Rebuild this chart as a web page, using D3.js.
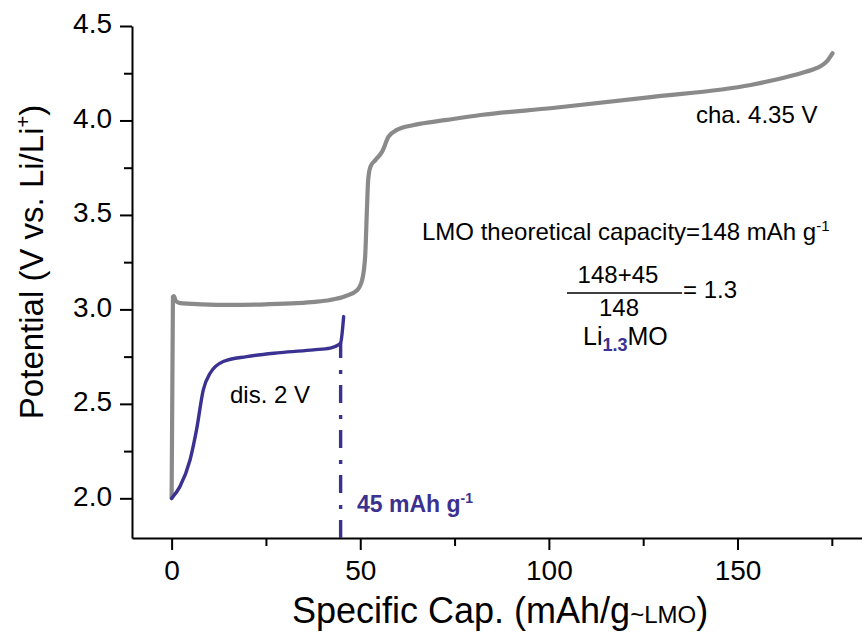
<!DOCTYPE html>
<html>
<head>
<meta charset="utf-8">
<script src="https://cdn.jsdelivr.net/npm/d3@7"></script>
<style>
  body { margin: 0; background: #fff; }
  text { font-family: "Liberation Sans", Arial, sans-serif; }
</style>
</head>
<body>
<div id="chart"></div>
<script>
// Data
var chargeCap = [0, 0.35, 0.6, 1.1, 2.2, 8, 15.5, 25, 33.2, 38, 42, 46, 49.1, 50.5, 51.3, 51.8, 52.1, 52.7, 54, 55.8, 57.5, 59.7, 64.2, 73, 81.9, 101, 127, 153.5, 162, 166.8, 170, 172.1, 173.8, 175.2];
var chargeV   = [2.0, 3.066, 3.07, 3.045, 3.033, 3.027, 3.024, 3.027, 3.033, 3.04, 3.05, 3.07, 3.10, 3.156, 3.28, 3.544, 3.685, 3.755, 3.79, 3.835, 3.914, 3.95, 3.976, 4.003, 4.029, 4.066, 4.124, 4.188, 4.225, 4.25, 4.27, 4.288, 4.315, 4.356];

var dischargeCap = [0, 2.2, 4.9, 6.6, 8.4, 10.2, 13.7, 19.9, 28.8, 37.6, 42, 44.2, 44.8, 45.6];
var dischargeV   = [2.0, 2.062, 2.204, 2.362, 2.574, 2.662, 2.724, 2.75, 2.771, 2.786, 2.795, 2.812, 2.823, 2.962];

var cutCap = 44.8;     // dash-dot marker at the discharge capacity
var cutV = 2.823;

var xTicks = [0, 50, 100, 150];
var xMinorTicks = [25, 75, 125, 175];
var yTicks = [2.0, 2.5, 3.0, 3.5, 4.0, 4.5];
var yMinorTicks = [2.25, 2.75, 3.25, 3.75, 4.25];

var gray = '#8a8a8a';
var purple = '#3b3191';

var width = 862, height = 632;
var svg = d3.select('#chart').append('svg')
  .attr('width', width)
  .attr('height', height);

var x = d3.scaleLinear().domain([-10.5, 183]).range([132, 862]);
var y = d3.scaleLinear().domain([1.79, 4.5]).range([538, 26]);

// Axes
var xAxis = svg.append('g')
  .attr('transform', 'translate(0,' + y(1.79) + ')')
  .call(d3.axisBottom(x).tickValues(xTicks).tickSize(12).tickPadding(10).tickSizeOuter(0));
svg.append('g')
  .attr('transform', 'translate(0,' + y(1.79) + ')')
  .call(d3.axisBottom(x).tickValues(xMinorTicks).tickSize(8).tickFormat(''))
  .select('.domain').remove();

var yAxis = svg.append('g')
  .attr('transform', 'translate(' + x(-10.5) + ',0)')
  .call(d3.axisLeft(y).tickValues(yTicks).tickFormat(d3.format('.1f')).tickSize(12).tickPadding(8).tickSizeOuter(0));
svg.append('g')
  .attr('transform', 'translate(' + x(-10.5) + ',0)')
  .call(d3.axisLeft(y).tickValues(yMinorTicks).tickSize(8).tickFormat(''))
  .select('.domain').remove();

svg.selectAll('.domain, .tick line')
  .attr('stroke', '#000')
  .attr('stroke-width', 2);

xAxis.selectAll('text').style('font-size', '28px').attr('fill', '#000');
yAxis.selectAll('text').style('font-size', '28px').attr('fill', '#000').attr('dy', '0.24em');

// Curves
var line = d3.line()
  .x(function(d) { return x(d[0]); })
  .y(function(d) { return y(d[1]); })
  .curve(d3.curveMonotoneX);

svg.append('path')
  .datum(d3.zip(chargeCap, chargeV))
  .attr('d', line)
  .attr('fill', 'none')
  .attr('stroke', gray)
  .attr('stroke-width', 4.2)
  .attr('stroke-linejoin', 'round')
  .attr('stroke-linecap', 'round');

svg.append('path')
  .datum(d3.zip(dischargeCap, dischargeV))
  .attr('d', line)
  .attr('fill', 'none')
  .attr('stroke', purple)
  .attr('stroke-width', 3.4)
  .attr('stroke-linejoin', 'round')
  .attr('stroke-linecap', 'round');

// dash-dot drop line, drawn from the axis upwards
svg.append('line')
  .attr('x1', x(cutCap)).attr('x2', x(cutCap))
  .attr('y1', y(1.79)).attr('y2', y(cutV))
  .attr('stroke', purple)
  .attr('stroke-width', 3.4)
  .attr('stroke-dasharray', '18,11,4,12');

// Annotations
function label(px, py, size) {
  return svg.append('text')
    .attr('x', px).attr('y', py)
    .style('font-size', size + 'px')
    .attr('fill', '#000');
}

label(696, 123, 24).text('cha. 4.35 V');
label(230, 403, 24).text('dis. 2 V');

var lmo = label(422, 240, 24);
lmo.append('tspan').text('LMO theoretical capacity=148 mAh g');
lmo.append('tspan').attr('dy', -9).style('font-size', '15px').text('-1');

label(618, 283, 24).attr('text-anchor', 'middle').text('148+45');
svg.append('line')
  .attr('x1', 567).attr('x2', 682)
  .attr('y1', 293).attr('y2', 293)
  .attr('stroke', '#000').attr('stroke-width', 1.5);
label(683, 298, 24).text('= 1.3');
label(619, 316, 24).attr('text-anchor', 'middle').text('148');

var li = label(583, 345, 25);
li.append('tspan').text('Li');
li.append('tspan').attr('dy', 6).style('font-size', '18px').style('font-weight', 'bold').attr('fill', purple).text('1.3');
li.append('tspan').attr('dy', -6).text('MO');

var cut = label(357, 512, 23).style('font-weight', 'bold').attr('fill', purple);
cut.append('tspan').text('45 mAh g');
cut.append('tspan').attr('dy', -9).style('font-size', '14px').text('-1');

// Axis titles
var xt = label(292, 623, 36);
xt.append('tspan').text('Specific Cap. (mAh/g');
xt.append('tspan').style('font-size', '24px').text('~LMO');
xt.append('tspan').text(')');

var yt = svg.append('text')
  .attr('transform', 'translate(43,262) rotate(-90)')
  .attr('text-anchor', 'middle')
  .style('font-size', '33px')
  .attr('fill', '#000');
yt.append('tspan').text('Potential (V vs. Li/Li');
yt.append('tspan').attr('dy', -13).style('font-size', '20px').text('+');
yt.append('tspan').attr('dy', 13).text(')');
</script>
</body>
</html>
